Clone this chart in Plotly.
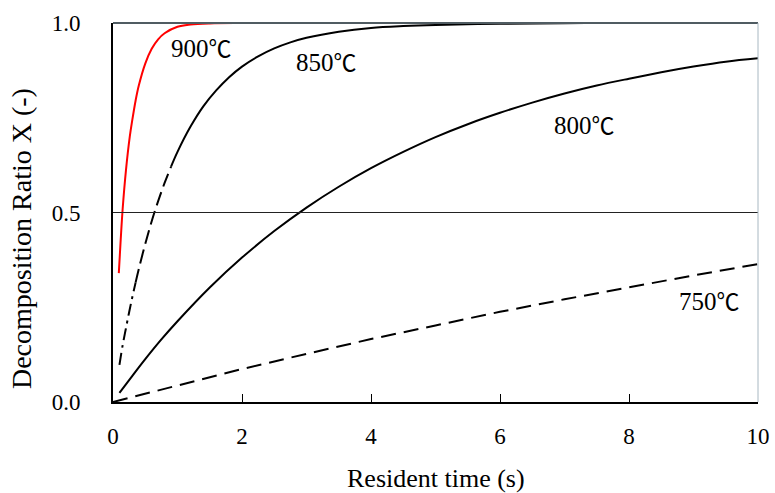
import plotly.graph_objects as go

# Resident time (s) and decomposition ratio
t_750 = [0.0, 1, 2, 3, 4, 5, 6, 7, 8, 9, 10]
x_750 = [0.0, 0.044, 0.087, 0.127, 0.166, 0.202, 0.238, 0.271, 0.303, 0.334, 0.364]

t_800 = [0.1, 0.3, 0.5, 0.75, 1.0, 1.5, 2.0, 2.5, 3.0, 3.5, 4.0, 4.5, 5.0, 5.5, 6.0, 6.5, 7.0, 7.5, 8.0, 8.5, 9.0, 9.5, 10.0]
x_800 = [0.024, 0.069, 0.113, 0.165, 0.213, 0.302, 0.381, 0.451, 0.513, 0.568, 0.617, 0.660, 0.699, 0.733, 0.763, 0.790, 0.814, 0.835, 0.853, 0.870, 0.885, 0.898, 0.907]

t_850a = [0.1, 0.15, 0.2, 0.25, 0.3, 0.35]
x_850a = [0.098, 0.150, 0.194, 0.237, 0.277, 0.315]
t_850b = [0.35, 0.4, 0.5, 0.6, 0.7, 0.8, 0.9]
x_850b = [0.315, 0.351, 0.417, 0.477, 0.530, 0.578, 0.621]
t_850c = [0.9, 1.0, 1.2, 1.4, 1.6, 1.8, 2.0, 2.25, 2.5, 2.75, 3.0, 3.5, 4.0, 4.5, 5.0, 6.0, 7.0, 8.0, 10.0]
x_850c = [0.621, 0.660, 0.726, 0.780, 0.822, 0.857, 0.885, 0.912, 0.933, 0.949, 0.961, 0.977, 0.987, 0.992, 0.995, 0.998, 0.9995, 1.0, 1.0]

t_900 = [0.09, 0.12, 0.15, 0.2, 0.26, 0.3, 0.35, 0.4, 0.5, 0.6, 0.7, 0.8, 1.0, 1.2, 1.5, 2.0, 4.0, 10.0]
x_900 = [0.34, 0.43, 0.51, 0.61, 0.70, 0.745, 0.795, 0.835, 0.893, 0.932, 0.957, 0.973, 0.99, 0.996, 0.999, 1.0, 1.0, 1.0]

label_temps = ["900", "850", "800", "750"]
label_t = [1.37, 3.31, 7.31, 9.25]
label_x = [0.937, 0.90, 0.733, 0.269]

x_ticks = [0, 2, 4, 6, 8, 10]
y_ticks = [0.0, 0.5, 1.0]
x_title = "Resident time (s)"
y_title = "Decomposition Ratio X (-)"

font = "Liberation Serif"

fig = go.Figure()
fig.add_trace(go.Scatter(x=t_750, y=x_750, mode="lines",
                         line=dict(color="black", width=2, dash="15px,8px")))
fig.add_trace(go.Scatter(x=t_800, y=x_800, mode="lines",
                         line=dict(color="black", width=2, shape="spline")))
fig.add_trace(go.Scatter(x=t_850a, y=x_850a, mode="lines",
                         line=dict(color="black", width=2, dash="12px,5px,3px,5px", shape="spline")))
fig.add_trace(go.Scatter(x=t_850b, y=x_850b, mode="lines",
                         line=dict(color="black", width=2, dash="14px,6px", shape="spline")))
fig.add_trace(go.Scatter(x=t_850c, y=x_850c, mode="lines",
                         line=dict(color="black", width=2, shape="spline")))
fig.add_trace(go.Scatter(x=t_900, y=x_900, mode="lines",
                         line=dict(color="#ff0000", width=2, shape="spline")))

for temp, tx, ty in zip(label_temps, label_t, label_x):
    txt = temp + "<span style='font-family:Noto Sans CJK JP;font-size:23px'>℃</span>"
    fig.add_annotation(x=tx, y=ty, text=txt, showarrow=False,
                       font=dict(family=font, size=25, color="black"))

# axis titles
fig.add_annotation(x=0.5, y=0, xref="paper", yref="paper", yshift=-76,
                   xanchor="center", yanchor="middle", showarrow=False,
                   text=x_title, font=dict(family=font, size=26, color="black"))
fig.add_annotation(x=0, y=0.43, xref="paper", yref="paper", xshift=-92,
                   xanchor="center", yanchor="middle", showarrow=False, textangle=-90,
                   text=y_title, font=dict(family=font, size=28, color="black"))

# 0.5 reference line, top and right frame
fig.add_shape(type="line", xref="x", yref="y", x0=0, x1=10, y0=0.5, y1=0.5,
              line=dict(color="#222222", width=1))
fig.add_shape(type="line", xref="paper", yref="paper", x0=0, x1=1, y0=1, y1=1,
              line=dict(color="#505c62", width=2))
fig.add_shape(type="line", xref="paper", yref="paper", x0=1, x1=1, y0=0, y1=1,
              line=dict(color="#a8b8c2", width=1))

fig.update_layout(
    width=775, height=493,
    margin=dict(l=113, r=17, t=23, b=91, autoexpand=False),
    paper_bgcolor="white", plot_bgcolor="white",
    showlegend=False,
    font=dict(family=font, size=23, color="black"),
    xaxis=dict(range=[0, 10], tickvals=x_ticks, ticks="inside", ticklen=8,
               tickcolor="black", showgrid=False, zeroline=False,
               showline=True, linecolor="black", linewidth=2,
               ticklabelstandoff=12, automargin=False,
               tickfont=dict(family=font, size=23)),
    yaxis=dict(range=[0, 1], tickvals=y_ticks, tickformat=".1f", ticks="",
               showgrid=False, zeroline=False,
               showline=True, linecolor="black", linewidth=2,
               ticklabelstandoff=26, automargin=False,
               tickfont=dict(family=font, size=23)),
)

fig.write_html("out.html", config={"displayModeBar": False},
               post_script="document.body.style.margin='0';document.body.style.overflow='hidden';")
